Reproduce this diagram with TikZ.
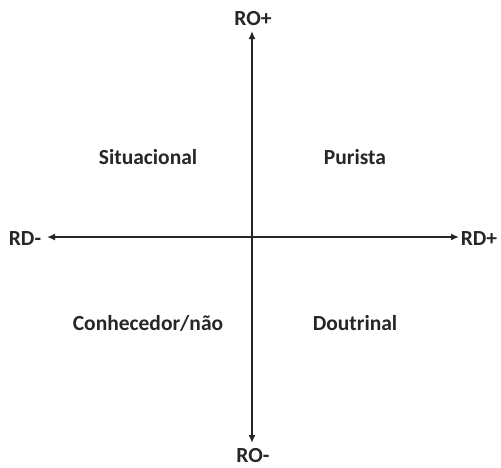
\documentclass[tikz,border=0pt]{standalone}
\usepackage{fontspec}
\setmainfont{Carlito}
\usetikzlibrary{arrows.meta}
\begin{document}
\begin{tikzpicture}[x=1pt,y=-1pt,
  lbl/.style={font=\fontsize{21.5}{24}\selectfont\bfseries, inner sep=0pt, text=black!85},
  axis/.style={line width=2pt, black!85, {Latex[length=8pt,width=7pt]}-{Latex[length=8pt,width=7pt]}}]
\useasboundingbox (0,0) rectangle (501,467);
\node[lbl] (rop) at (253,19) {RO+};
\node[lbl] (rom) at (253,456) {RO-};
\node[lbl] (rdm) at (25,239) {RD-};
\node[lbl] (rdp) at (479,239) {RD+};
\node[lbl] (sit) at (148,157) {Situacional};
\node[lbl] (pur) at (355,157) {Purista};
\node[lbl] (con) at (148,323) {Conhecedor/não};
\node[lbl] (dou) at (355,323) {Doutrinal};
\coordinate (top) at (252,31);
\coordinate (bot) at (252,443);
\coordinate (lft) at (47,237);
\coordinate (rgt) at (459,237);
\draw[axis] (top) -- (bot);
\draw[axis] (lft) -- (rgt);
\end{tikzpicture}
\end{document}
